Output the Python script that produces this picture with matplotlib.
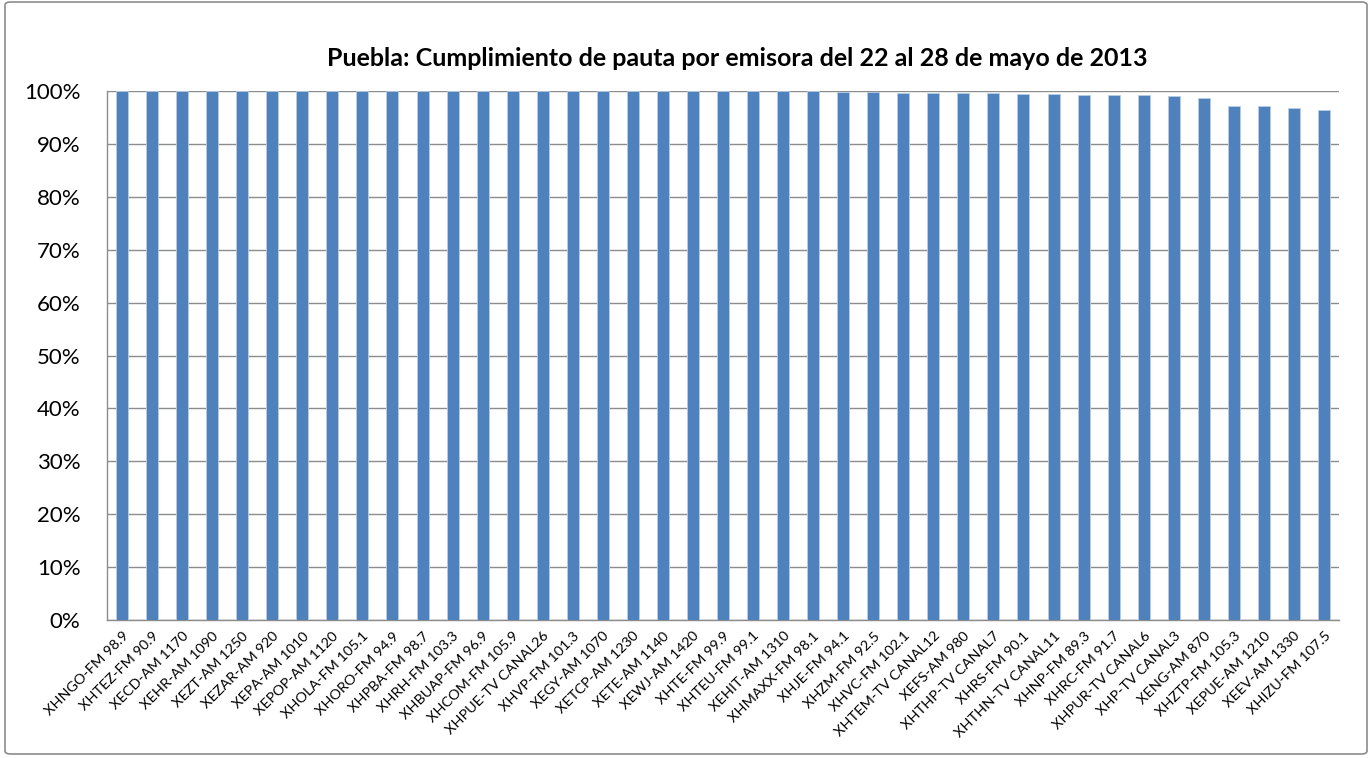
import matplotlib
matplotlib.use("Agg")
import matplotlib.pyplot as plt
from matplotlib.patches import FancyBboxPatch
from matplotlib.ticker import FuncFormatter

plt.rcParams['font.family'] = ['Lato', 'DejaVu Sans']

title = "Puebla: Cumplimiento de pauta por emisora del 22 al 28 de mayo de 2013"

stations = [
    "XHNGO-FM 98.9", "XHTEZ-FM 90.9", "XECD-AM 1170", "XEHR-AM 1090", "XEZT-AM 1250",
    "XEZAR-AM 920", "XEPA-AM 1010", "XEPOP-AM 1120", "XHOLA-FM 105.1", "XHORO-FM 94.9",
    "XHPBA-FM 98.7", "XHRH-FM 103.3", "XHBUAP-FM 96.9", "XHCOM-FM 105.9", "XHPUE-TV CANAL26",
    "XHVP-FM 101.3", "XEGY-AM 1070", "XETCP-AM 1230", "XETE-AM 1140", "XEWJ-AM 1420",
    "XHTE-FM 99.9", "XHTEU-FM 99.1", "XEHIT-AM 1310", "XHMAXX-FM 98.1", "XHJE-FM 94.1",
    "XHZM-FM 92.5", "XHVC-FM 102.1", "XHTEM-TV CANAL12", "XEFS-AM 980", "XHTHP-TV CANAL7",
    "XHRS-FM 90.1", "XHTHN-TV CANAL11", "XHNP-FM 89.3", "XHRC-FM 91.7", "XHPUR-TV CANAL6",
    "XHP-TV CANAL3", "XENG-AM 870", "XHZTP-FM 105.3", "XEPUE-AM 1210", "XEEV-AM 1330",
    "XHIZU-FM 107.5",
]

compliance = [
    1.000, 1.000, 1.000, 1.000, 1.000,
    1.000, 1.000, 1.000, 1.000, 1.000,
    1.000, 1.000, 1.000, 1.000, 1.000,
    1.000, 1.000, 1.000, 1.000, 1.000,
    1.000, 1.000, 1.000, 1.000, 0.998,
    0.998, 0.997, 0.997, 0.997, 0.997,
    0.995, 0.995, 0.993, 0.993, 0.993,
    0.991, 0.986, 0.972, 0.972, 0.967,
    0.964,
]

y_ticks = [0, 0.1, 0.2, 0.3, 0.4, 0.5, 0.6, 0.7, 0.8, 0.9, 1.0]

fig = plt.figure(figsize=(13.7, 7.58), dpi=100)

ax = fig.add_axes([107 / 1370, 1 - 620 / 758, (1339 - 107) / 1370, (620 - 91) / 758])

x = list(range(len(stations)))
ax.bar(x, compliance, width=0.4, color='#4f81bd', edgecolor='#b9cde5',
       linewidth=0.6, zorder=3)

ax.set_xlim(-0.5, len(stations) - 0.5)
ax.set_ylim(0, 1.0)
ax.set_yticks(y_ticks)
ax.yaxis.set_major_formatter(FuncFormatter(lambda v, p: f"{v * 100:.0f}%"))
ax.grid(axis='y', color='#8c8c8c', linewidth=1.0, zorder=0)
ax.set_axisbelow(True)

for s in ['top', 'right']:
    ax.spines[s].set_visible(False)
for s in ['left', 'bottom']:
    ax.spines[s].set_color('#8c8c8c')
    ax.spines[s].set_linewidth(1.0)

ax.tick_params(axis='y', length=0, pad=19, labelsize=16, labelcolor='black')
ax.tick_params(axis='x', length=0, pad=7, labelsize=10.4)
ax.set_xticks(x)
ax.set_xticklabels(stations, rotation=45, ha='right', rotation_mode='anchor')

fig.text(737 / 1370, 1 - 58 / 758, title, ha='center', va='center',
         fontsize=18, fontweight='bold')

# outer chart border
border = FancyBboxPatch((5 / 1370, 4 / 758), 1362 / 1370, 752 / 758,
                        boxstyle="round,pad=0,rounding_size=0.004",
                        transform=fig.transFigure, facecolor='none',
                        edgecolor='#8c8c8c', linewidth=1.2, zorder=5)
fig.patches.append(border)

fig.savefig("out.png", dpi=100)
